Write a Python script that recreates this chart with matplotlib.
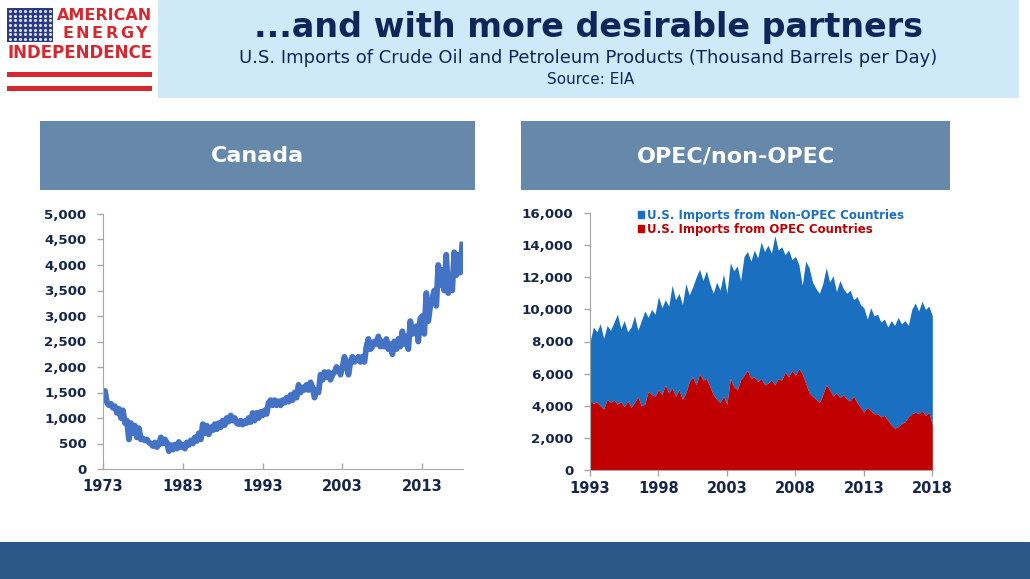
import numpy as np
import matplotlib.pyplot as plt
from matplotlib.patches import Rectangle, Patch

W, H = 1030, 579

# Canada imports, quarterly (thousand b/d), 1973 Q1 .. 2017 Q4, then 2018 Q1
canada = [
    1450, 1530, 1300, 1250,   # 1973
    1280, 1200, 1230, 1100,   # 1974
    1180, 1000, 1150, 900,    # 1975
    950, 580, 900, 700,       # 1976
    850, 620, 800, 580,       # 1977
    600, 560, 580, 520,       # 1978
    500, 450, 520, 430,       # 1979
    480, 620, 500, 580,       # 1980
    520, 350, 470, 380,       # 1981
    480, 400, 530, 430,       # 1982
    480, 400, 520, 470,       # 1983
    560, 500, 620, 550,       # 1984
    700, 580, 880, 700,       # 1985
    850, 680, 820, 760,       # 1986
    880, 780, 900, 820,       # 1987
    950, 860, 1000, 930,      # 1988
    1050, 950, 1000, 900,     # 1989
    880, 950, 870, 940,       # 1990
    900, 1000, 920, 1100,     # 1991
    950, 1100, 1000, 1120,    # 1992
    1050, 1150, 1080, 1300,   # 1993
    1350, 1250, 1350, 1250,   # 1994
    1330, 1250, 1350, 1300,   # 1995
    1400, 1320, 1450, 1350,   # 1996
    1500, 1400, 1650, 1500,   # 1997
    1600, 1550, 1650, 1550,   # 1998
    1700, 1600, 1400, 1550,   # 1999
    1500, 1850, 1750, 1900,   # 2000
    1800, 1900, 1750, 1850,   # 2001
    1900, 2000, 1950, 1850,   # 2002
    2000, 2200, 2050, 1850,   # 2003
    2100, 2200, 2100, 2150,   # 2004
    2200, 2100, 2200, 2100,   # 2005
    2400, 2550, 2350, 2400,   # 2006
    2500, 2450, 2600, 2400,   # 2007
    2500, 2400, 2550, 2350,   # 2008
    2450, 2250, 2500, 2350,   # 2009
    2550, 2400, 2700, 2450,   # 2010
    2600, 2350, 2900, 2650,   # 2011
    2700, 2800, 2500, 2950,   # 2012
    3000, 2650, 3450, 2900,   # 2013
    3200, 3350, 3500, 3200,   # 2014
    4000, 3600, 3900, 3500,   # 2015
    4200, 3450, 3800, 3500,   # 2016
    4250, 3800, 4200, 3850,   # 2017
    4400,                     # 2018
]
canada_ticks = [1973, 1983, 1993, 2003, 2013]

# total imports (top of the stack) and OPEC share, quarterly, 1993 .. 2018 Q1
total = [
    8000, 8900, 8600, 9100,      # 1993
    8200, 9000, 8700, 9200,      # 1994
    9700, 8800, 9300, 8600,      # 1995
    8900, 9600, 8700, 9300,      # 1996
    9900, 9500, 10000, 9700,     # 1997
    10800, 10100, 10600, 10200,  # 1998
    11500, 10600, 11000, 10300,  # 1999
    11600, 10900, 11400, 12000,  # 2000
    12500, 11800, 12400, 11600,  # 2001
    11000, 11700, 11200, 12200,  # 2002
    11000, 12900, 12400, 12700,  # 2003
    11800, 13300, 13600, 13000,  # 2004
    13700, 13200, 14200, 13600,  # 2005
    14000, 13500, 14600, 13700,  # 2006
    13900, 13400, 13700, 13100,  # 2007
    13300, 12800, 11500, 13000,  # 2008
    12600, 11700, 11300, 11000,  # 2009
    11600, 12600, 11700, 12100,  # 2010
    11100, 11800, 11300, 11000,  # 2011
    11200, 10600, 10800, 10300,  # 2012
    10100, 9400, 10100, 9600,    # 2013
    9700, 9200, 9400, 8900,      # 2014
    9300, 9000, 9500, 9100,      # 2015
    9300, 9000, 10000, 10400,    # 2016
    9900, 10500, 10000, 10200,   # 2017
    9600,                        # 2018
]
opec = [
    4300, 4150, 4250, 4000,   # 1993
    3800, 4400, 4200, 4350,   # 1994
    4100, 4250, 3950, 4300,   # 1995
    3900, 4200, 4550, 4000,   # 1996
    4100, 4900, 4700, 4600,   # 1997
    5000, 4700, 5300, 4800,   # 1998
    5100, 4600, 5000, 4400,   # 1999
    4800, 5500, 5800, 5300,   # 2000
    6000, 5600, 5700, 5200,   # 2001
    4700, 4400, 4200, 4600,   # 2002
    4100, 5700, 5200, 5000,   # 2003
    5600, 5900, 6200, 5700,   # 2004
    5800, 5500, 5700, 5300,   # 2005
    5400, 5600, 5300, 5700,   # 2006
    5600, 6100, 5800, 6200,   # 2007
    5900, 6300, 6000, 5400,   # 2008
    4800, 4600, 4400, 4200,   # 2009
    4700, 5300, 5000, 4600,   # 2010
    4800, 4500, 4700, 4400,   # 2011
    4300, 4600, 4200, 3900,   # 2012
    3600, 3900, 3700, 3500,   # 2013
    3500, 3300, 3400, 3100,   # 2014
    2800, 2600, 2700, 2900,   # 2015
    3000, 3300, 3500, 3600,   # 2016
    3500, 3700, 3400, 3600,   # 2017
    2800,                     # 2018
]
opec_ticks = [1993, 1998, 2003, 2008, 2013, 2018]

NAVY = "#0f2658"
TICK = "#16264a"
GREY = "#a6a6a6"
HDR = "#6688aa"
BLUE = "#1a6fc1"
RED = "#c00000"
LOGO_RED = "#d7282f"


def fx(px):
    return px / W


def fy(py):
    return 1 - py / H


def box(fig, x0, y0, x1, y1, color):
    fig.add_artist(Rectangle((fx(x0), fy(y1)), fx(x1 - x0), (y1 - y0) / H,
                             transform=fig.transFigure, color=color, lw=0, zorder=0))


fig = plt.figure(figsize=(W / 100, H / 100), dpi=100)
fig.patch.set_facecolor("white")

# header
box(fig, 158, 0, 1019, 98, "#cfe9f9")
fig.text(fx(589), fy(28), "...and with more desirable partners", ha="center", va="center",
         fontsize=24, fontweight="bold", color=NAVY)
fig.text(fx(588), fy(58), "U.S. Imports of Crude Oil and Petroleum Products (Thousand Barrels per Day)",
         ha="center", va="center", fontsize=13, color=NAVY)
fig.text(fx(591), fy(79), "Source: EIA", ha="center", va="center", fontsize=11, color=NAVY)

# logo
box(fig, 7, 8, 53, 42, "#2a3a88")
sx, sy = np.meshgrid(np.linspace(10, 50, 9), np.linspace(11, 39, 7))
fig.add_artist(plt.Line2D(fx(sx.ravel()), fy(sy.ravel()), ls="none", marker="o", ms=1.2,
                          color="#dde3f5", transform=fig.transFigure))
fig.text(fx(152), fy(16), "AMERICAN", ha="right", va="center", fontsize=11.5,
         fontweight="bold", color=LOGO_RED)
for i, ch in enumerate("ENERGY"):
    fig.text(fx(68 + i * 14.6), fy(33), ch, ha="center", va="center", fontsize=11.5,
             fontweight="bold", color=LOGO_RED)
fig.text(fx(80), fy(53), "INDEPENDENCE", ha="center", va="center", fontsize=12,
         fontweight="bold", color=LOGO_RED)
box(fig, 7, 72, 152, 77, LOGO_RED)
box(fig, 7, 86, 152, 91, LOGO_RED)

# panel headers
box(fig, 40, 121, 475, 190, HDR)
fig.text(fx(257), fy(156), "Canada", ha="center", va="center", fontsize=16,
         fontweight="bold", color="white")
box(fig, 521, 121, 950, 190, HDR)
fig.text(fx(736), fy(156), "OPEC/non-OPEC", ha="center", va="center", fontsize=16,
         fontweight="bold", color="white")

# footer
box(fig, 0, 542, 1030, 579, "#2b5886")


def style(ax, xdir):
    for s in ("top", "right"):
        ax.spines[s].set_visible(False)
    for s in ("left", "bottom"):
        ax.spines[s].set_color(GREY)
    ax.tick_params(colors=GREY, length=4, width=1, labelcolor=TICK)
    ax.tick_params(axis="y", pad=8)
    ax.tick_params(axis="x", direction=xdir, pad=7 if xdir == "in" else 4)
    for lab in ax.get_xticklabels() + ax.get_yticklabels():
        lab.set_fontweight("bold")


# Canada chart
ax1 = fig.add_axes([fx(103), fy(469), fx(463 - 103), (469 - 214) / H])
x_can = 1973 + np.arange(len(canada)) * 0.25
ax1.plot(x_can, canada, color="#4472c4", lw=4.2, solid_joinstyle="round")
ax1.set_xlim(1973, 2018.1)
ax1.set_ylim(0, 5000)
ax1.set_yticks(range(0, 5001, 500))
ax1.set_yticklabels([f"{v:,}" for v in range(0, 5001, 500)], fontsize=9.6)
ax1.set_xticks(canada_ticks)
ax1.set_xticklabels([str(t) for t in canada_ticks], fontsize=10.5)
style(ax1, "in")

# OPEC / non-OPEC chart
ax2 = fig.add_axes([fx(590), fy(470), fx(933 - 590), (470 - 213) / H])
x_op = 1993 + np.arange(len(total)) * 0.25
ax2.fill_between(x_op, opec, total, color=BLUE, lw=0)
ax2.fill_between(x_op, 0, opec, color=RED, lw=0)
ax2.set_xlim(1993, 2018.05)
ax2.set_ylim(0, 16000)
ax2.set_yticks(range(0, 16001, 2000))
ax2.set_yticklabels([f"{v:,}" for v in range(0, 16001, 2000)], fontsize=9.6)
ax2.set_xticks(opec_ticks)
ax2.set_xticklabels([str(t) for t in opec_ticks], fontsize=10.5)
style(ax2, "out")

handles = [Patch(color=BLUE), Patch(color=RED)]
leg = ax2.legend(handles, ["U.S. Imports from Non-OPEC Countries", "U.S. Imports from OPEC Countries"],
                 loc="upper left", bbox_to_anchor=((632 - 590) / (933 - 590), 1.04),
                 frameon=False, handlelength=0.55, handleheight=0.55, handletextpad=0.25,
                 labelspacing=0.1, borderpad=0, prop={"size": 8.5, "weight": "bold"})
for t, c in zip(leg.get_texts(), [BLUE, RED]):
    t.set_color(c)

fig.savefig("out.png", dpi=100, facecolor="white")
